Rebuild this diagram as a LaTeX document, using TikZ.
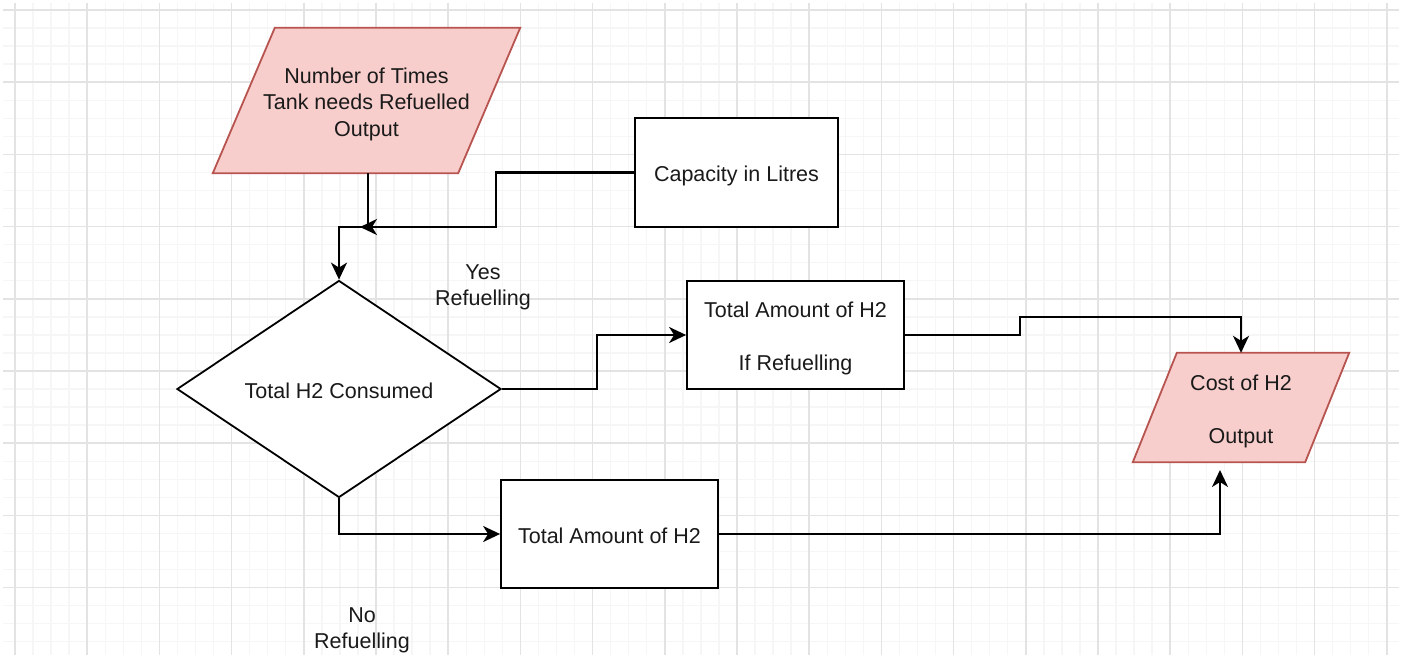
\documentclass[tikz,border=0pt]{standalone}
\usepackage{fontspec}
\setmainfont{Liberation Sans}
\usetikzlibrary{shapes.geometric,arrows.meta,calc}
\definecolor{gridminor}{HTML}{F6F6F6}
\definecolor{gridmajor}{HTML}{E3E3E3}
\definecolor{iofill}{HTML}{F8CECC}
\definecolor{iodraw}{HTML}{B85450}
\definecolor{ink}{HTML}{1A1A1A}
\pgfdeclarelayer{back}
\pgfsetlayers{back,main}
% centred label block, set a little below the geometric centre of its node
\newcommand{\lbl}[1]{\raisebox{-4pt}[\height][\depth]{\begin{tabular}{@{}c@{}}#1\end{tabular}}}
\begin{document}
\begin{tikzpicture}[x=1pt,y=-1pt,
  every node/.style={font=\fontsize{21.5}{26.5}\selectfont, inner sep=0pt, text=ink},
  procbox/.style={draw=black, line width=1.8pt, fill=white, rectangle},
  decision/.style={draw=black, line width=1.8pt, fill=white, diamond, aspect=1.5},
  iotext/.style={rectangle},
  iobox/.style={draw=iodraw, fill=iofill, line width=1.8pt, line join=miter},
  arr/.style={draw=black, line width=2.1pt, -{Stealth[length=17pt,width=16pt,inset=5pt]}},
  plainlabel/.style={}]
\useasboundingbox (0,0) rectangle (1402,658);

% background grid
\begin{pgfonlayer}{back}
  \fill[white] (0,0) rectangle (1402,658);
  \begin{scope}
    \clip (3,3) rectangle (1399,655);
    \foreach \i in {-1,...,78} {
      \draw[gridminor, line width=1.4pt] ({15+18.05*\i},3) -- ({15+18.05*\i},655);
    }
    \foreach \i in {-1,...,37} {
      \draw[gridminor, line width=1.4pt] (3,{10+18.05*\i}) -- (1399,{10+18.05*\i});
    }
    \foreach \i in {0,...,19} {
      \draw[gridmajor, line width=1.6pt] ({15+72.2*\i},3) -- ({15+72.2*\i},655);
    }
    \foreach \i in {0,...,9} {
      \draw[gridmajor, line width=1.6pt] (3,{10+72.2*\i}) -- (1399,{10+72.2*\i});
    }
  \end{scope}
\end{pgfonlayer}

% nodes
\node[iotext, minimum width=307pt, minimum height=145pt] (times) at (366.5,100.5)
  {\lbl{Number of Times\\Tank needs Refuelled\\Output}};
\node[procbox, minimum width=203pt, minimum height=109pt] (cap) at (736.5,172.5) {\lbl{Capacity in Litres}};
\node[decision, minimum width=324pt, minimum height=217pt] (cons) at (339,389) {\lbl{Total H2 Consumed}};
\node[procbox, minimum width=217pt, minimum height=108pt] (refuel) at (795.5,335)
  {\lbl{Total Amount of H2\\[26.5pt]If Refuelling}};
\node[procbox, minimum width=217pt, minimum height=108pt] (norefuel) at (609.5,534) {\lbl{Total Amount of H2}};
\node[iotext, minimum width=216pt, minimum height=109pt] (cost) at (1241,407.5)
  {\lbl{Cost of H2\\[26.5pt]Output}};

\node[plainlabel] (yes) at (483,283) {\lbl{Yes\\Refuelling}};
\node[plainlabel] (no) at (362,626) {\lbl{No\\Refuelling}};

% parallelogram outlines for the input/output nodes
\begin{pgfonlayer}{back}
  \draw[iobox] ($(times.north west)+(62,0)$) -- (times.north east)
    -- ($(times.south east)-(62,0)$) -- (times.south west) -- cycle;
  \draw[iobox] ($(cost.north west)+(44,0)$) -- (cost.north east)
    -- ($(cost.south east)-(44,0)$) -- (cost.south west) -- cycle;
\end{pgfonlayer}

% connectors
\coordinate (merge) at (339,227);
\coordinate (join) at (360,227);
\coordinate (costin) at (1220,470);

\draw[arr] ([xshift=1.5pt]times.south) |- (merge) -- (cons.north);
\draw[arr] (cap.west) -- ++(-138,0) |- (join);
\draw[arr] (cons.east) -- ++(95,0) |- (refuel.west);
\draw[arr] (cons.south) |- (norefuel.west);
\draw[arr] (refuel.east) -- ++(115,0) -- ++(0,-18) -| (cost.north);
\draw[arr] (norefuel.east) -| (costin);
\end{tikzpicture}
\end{document}
